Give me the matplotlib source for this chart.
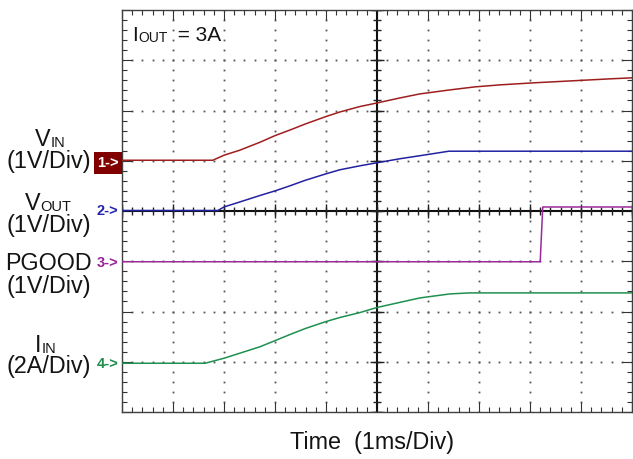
import numpy as np
import matplotlib
matplotlib.use('Agg')
import matplotlib.pyplot as plt
from matplotlib.patches import Rectangle

W, H = 633, 459
plt.rcParams['font.family'] = ['Liberation Sans', 'DejaVu Sans']

# ---- data (time in divisions of 1 ms, level in screen divisions) ----
t_vin = [0, 1.78, 2.0, 2.31, 2.71, 3.0, 3.29, 3.59, 4.0, 4.27, 4.67, 5.0, 5.45,
         5.84, 6.43, 6.92, 7.41, 8.06, 8.82, 9.57, 10]
vin = [5.01, 5.01, 5.11, 5.21, 5.37, 5.50, 5.61, 5.73, 5.88, 5.97, 6.08, 6.15,
       6.25, 6.33, 6.41, 6.47, 6.51, 6.55, 6.59, 6.63, 6.65]

t_vout = [0, 1.88, 2.0, 2.31, 2.71, 3.0, 3.29, 3.59, 4.0, 4.27, 4.67, 5.0, 5.45,
          5.84, 6.41, 10]
vout = [4.01, 4.01, 4.08, 4.18, 4.31, 4.40, 4.50, 4.61, 4.74, 4.82, 4.90, 4.96,
        5.04, 5.10, 5.19, 5.19]

t_pg = [0, 8.20, 8.25, 10]
pgood = [2.99, 2.99, 4.08, 4.08]

t_iin = [0, 1.63, 2.0, 2.31, 2.71, 3.0, 3.29, 3.59, 4.0, 4.27, 4.67, 5.0, 5.84,
         6.43, 6.82, 10]
iin = [0.97, 0.97, 1.07, 1.17, 1.30, 1.42, 1.54, 1.66, 1.80, 1.88, 1.98, 2.08,
       2.27, 2.35, 2.37, 2.37]

x_divs = 10
y_divs = 8

fig = plt.figure(figsize=(W / 100, H / 100), dpi=100)
L, T, R, B = 122, 10, 632, 412
ax = fig.add_axes([L / W, 1 - B / H, (R - L) / W, (B - T) / H])
ax.set_xlim(0, x_divs)
ax.set_ylim(0, y_divs)

# dotted graticule
minor_x = np.arange(0, x_divs + 0.01, 0.2)
minor_y = np.arange(0, y_divs + 0.01, 0.2)
for gy in range(1, y_divs):
    if gy == y_divs // 2:
        continue
    ax.plot(minor_x, np.full_like(minor_x, gy), ls='none', marker='s', ms=1.3,
            mew=0, color='#555555', zorder=1)
for gx in range(1, x_divs):
    if gx == x_divs // 2:
        continue
    ax.plot(np.full_like(minor_y, gx), minor_y, ls='none', marker='s', ms=1.3,
            mew=0, color='#555555', zorder=1)

# centre cross with ticks
cx, cy = x_divs / 2, y_divs / 2
ax.axhline(cy, color='#111111', lw=1.5, zorder=2)
ax.axvline(cx, color='#111111', lw=1.5, zorder=2)
ax.plot(minor_x, np.full_like(minor_x, cy), ls='none', marker='|', ms=6, mew=1.0,
        color='#222222', zorder=2)
ax.plot(np.full_like(minor_y, cx), minor_y, ls='none', marker='_', ms=6, mew=1.0,
        color='#222222', zorder=2)
maj_x = np.arange(0, x_divs + 1)
maj_y = np.arange(0, y_divs + 1)
ax.plot(maj_x, np.full_like(maj_x, cy, dtype=float), ls='none', marker='|', ms=10,
        mew=1.0, color='#222222', zorder=2)
ax.plot(np.full_like(maj_y, cx, dtype=float), maj_y, ls='none', marker='_', ms=10,
        mew=1.0, color='#222222', zorder=2)

# frame ticks
ax.set_xticks(maj_x)
ax.set_yticks(maj_y)
ax.set_xticks(minor_x, minor=True)
ax.set_yticks(minor_y, minor=True)
ax.tick_params(which='both', direction='in', top=True, right=True,
               labelbottom=False, labelleft=False, color='#333333', width=0.8)
ax.tick_params(which='major', length=7)
ax.tick_params(which='minor', length=3.6)
for sp in ax.spines.values():
    sp.set_color('#404040')
    sp.set_linewidth(1.0)

# traces
ax.plot(t_vin, vin, color='#9E1E1E', lw=1.1, zorder=5)
ax.plot(t_vout, vout, color='#2222A0', lw=1.1, zorder=5)
ax.plot(t_pg, pgood, color='#9A2A9A', lw=1.1, zorder=5)
ax.plot(t_iin, iin, color='#1E9050', lw=1.1, zorder=5)


def ftxt(x, y, s, **kw):
    return fig.text(x / W, 1 - y / H, s, **kw)


BIG = 16.8
SUB = 10.5
txtc = '#141414'

# left labels
ftxt(50.5, 146, 'V', fontsize=BIG, ha='right', va='baseline', color=txtc)
ftxt(50.5, 147, 'IN', fontsize=SUB, ha='left', va='baseline', color=txtc)
ftxt(48.5, 168, '(1V/Div)', fontsize=BIG, ha='center', va='baseline', color=txtc)

ftxt(40.5, 210, 'V', fontsize=BIG, ha='right', va='baseline', color=txtc)
ftxt(40.5, 211, 'OUT', fontsize=SUB, ha='left', va='baseline', color=txtc)
ftxt(48.5, 232, '(1V/Div)', fontsize=BIG, ha='center', va='baseline', color=txtc)

ftxt(48.5, 270, 'PGOOD', fontsize=BIG, ha='center', va='baseline', color=txtc)
ftxt(48.5, 293, '(1V/Div)', fontsize=BIG, ha='center', va='baseline', color=txtc)

ftxt(41, 352, 'I', fontsize=BIG, ha='right', va='baseline', color=txtc)
ftxt(42, 353, 'IN', fontsize=SUB, ha='left', va='baseline', color=txtc)
ftxt(48.5, 373, '(2A/Div)', fontsize=BIG, ha='center', va='baseline', color=txtc)

# channel markers
fig.add_artist(Rectangle((94 / W, 1 - 174 / H), 28 / W, 22 / H,
                         transform=fig.transFigure, color='#800000', lw=0))
MK = 10.5
ftxt(97.5, 167, '1->', fontsize=MK, fontweight='bold', ha='left', va='baseline',
     color='white')
ftxt(96.5, 215, '2->', fontsize=MK, fontweight='bold', ha='left', va='baseline',
     color='#2424B0')
ftxt(96.5, 267, '3->', fontsize=MK, fontweight='bold', ha='left', va='baseline',
     color='#992299')
ftxt(96.5, 368, '4->', fontsize=MK, fontweight='bold', ha='left', va='baseline',
     color='#1E8C4A')

# annotation inside
ftxt(132, 41, 'I', fontsize=15, ha='left', va='baseline', color=txtc)
ftxt(138, 42, 'OUT', fontsize=10, ha='left', va='baseline', color=txtc)
ftxt(172, 41, ' = 3A', fontsize=15, ha='left', va='baseline', color=txtc)

# x label
ftxt(372.5, 449, 'Time  (1ms/Div)', fontsize=BIG, ha='center', va='baseline',
     color=txtc)

fig.savefig('out.png', dpi=100)
